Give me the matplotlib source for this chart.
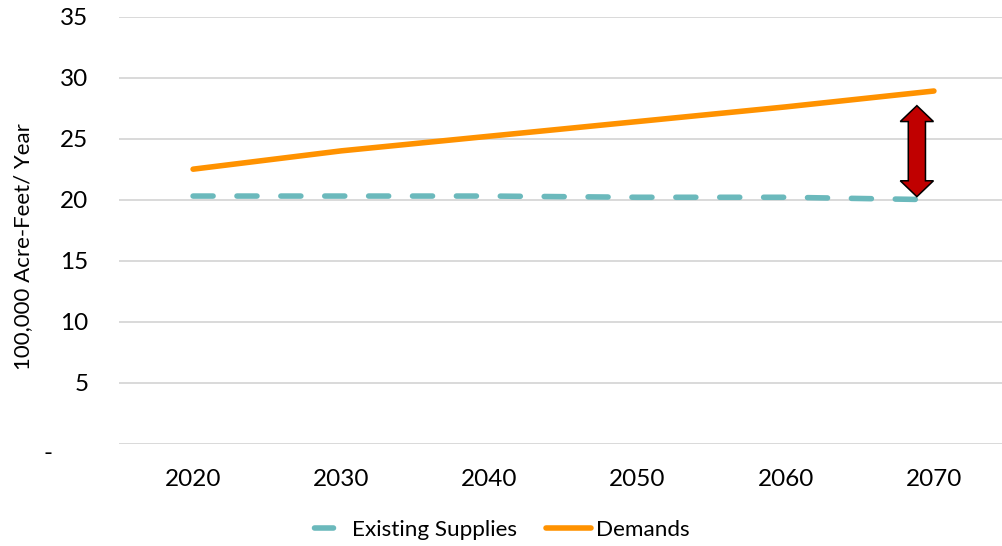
import matplotlib
matplotlib.use("Agg")
import matplotlib.pyplot as plt
from matplotlib.lines import Line2D
from matplotlib.patches import Polygon
from matplotlib.transforms import ScaledTranslation

years = ["2020", "2030", "2040", "2050", "2060", "2070"]
existing_supplies = [20.3, 20.3, 20.3, 20.2, 20.2, 20.0]
demands = [22.5, 24.0, 25.2, 26.4, 27.6, 28.9]
y_ticks = [0, 5, 10, 15, 20, 25, 30, 35]
y_tick_labels = ["-", "5", "10", "15", "20", "25", "30", "35"]

# gap arrow between the two series near 2070
gap_x = 4.885
gap_low, gap_high = 20.25, 27.7

teal = "#6BB9BC"
orange = "#FF9200"
grid_color = "#D0D0D0"
LW = 4.0

plt.rcParams["font.family"] = ["Lato", "DejaVu Sans"]

fig = plt.figure(figsize=(10.02, 5.46), dpi=100)
W, H = 1002, 546
ax = fig.add_axes([119 / W, (H - 444) / H, 889 / W, (444 - 16.5) / H])

x = list(range(len(years)))
ax.plot(x, existing_supplies, color=teal, lw=LW, dashes=(3.6, 4.3),
        solid_capstyle="round", dash_capstyle="round")
ax.plot(x, demands, color=orange, lw=LW, solid_capstyle="round")

# double-headed block arrow
body_w, head_w, head_len = 0.058, 0.112, 1.3
pts = [
    (gap_x, gap_high),
    (gap_x + head_w, gap_high - head_len),
    (gap_x + body_w, gap_high - head_len),
    (gap_x + body_w, gap_low + head_len),
    (gap_x + head_w, gap_low + head_len),
    (gap_x, gap_low),
    (gap_x - head_w, gap_low + head_len),
    (gap_x - body_w, gap_low + head_len),
    (gap_x - body_w, gap_high - head_len),
    (gap_x - head_w, gap_high - head_len),
]
ax.add_patch(Polygon(pts, closed=True, facecolor="#C00000", edgecolor="black",
                     lw=1.1, joinstyle="miter", zorder=5))

ax.set_xlim(-0.5, len(years) - 0.5)
ax.set_ylim(0, 35)
ax.set_xticks(x)
ax.set_xticklabels(years)
ax.set_yticks(y_ticks)
ax.set_yticklabels(y_tick_labels)
ax.tick_params(axis="both", length=0, labelsize=17.5, colors="black")
ax.tick_params(axis="y", pad=22)
ax.tick_params(axis="x", pad=18)
ax.grid(axis="y", color=grid_color, lw=1.1)
ax.set_axisbelow(True)
for s in ax.spines.values():
    s.set_visible(False)

# the zero label is a dash set further left and slightly lower
zero_lbl = ax.get_yticklabels()[0]
zero_lbl.set_transform(zero_lbl.get_transform()
                       + ScaledTranslation(-0.36, -0.08, fig.dpi_scale_trans))

ax.set_ylabel("100,000 Acre-Feet/ Year", fontsize=16)
ax.yaxis.set_label_coords(-86 / 889, 0.463)

handles = [
    Line2D([], [], color=teal, lw=LW, linestyle=(10.35, (3.42, 9.0)),
           dash_capstyle="round", solid_capstyle="round"),
    Line2D([], [], color=orange, lw=LW, solid_capstyle="round"),
]
fig.legend(handles, ["Existing Supplies", "Demands"], loc="center",
           bbox_to_anchor=(496 / W, (H - 530) / H), ncol=2, frameon=False,
           fontsize=16.2, handlelength=2.0, handletextpad=0.2,
           columnspacing=1.3)

fig.savefig("out.png", dpi=100)
